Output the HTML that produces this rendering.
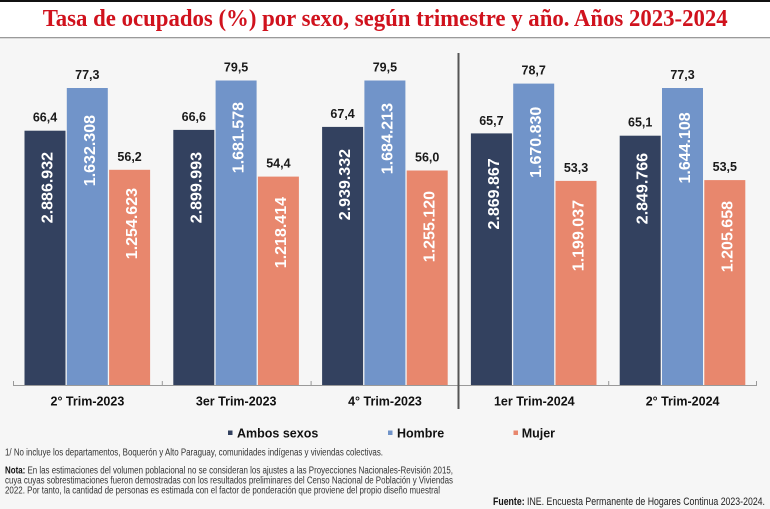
<!DOCTYPE html>
<html>
<head>
<meta charset="utf-8">
<style>
  html, body { margin: 0; padding: 0; background: #f6f6f6; }
  body { width: 770px; height: 509px; overflow: hidden; }
  svg { display: block; }
  .val { font-family: "Liberation Sans", Arial, sans-serif; font-weight: bold; font-size: 12.5px; fill: #1a1a1a; text-anchor: middle; }
  .inb { font-family: "Liberation Sans", Arial, sans-serif; font-weight: bold; font-size: 16px; fill: #ffffff; text-anchor: end; }
  .cat { font-family: "Liberation Sans", Arial, sans-serif; font-weight: bold; font-size: 12.5px; fill: #111; text-anchor: middle; }
  .leg { font-family: "Liberation Sans", Arial, sans-serif; font-weight: bold; font-size: 12.5px; fill: #111; }
  .fn { font-family: "Liberation Sans", Arial, sans-serif; font-size: 10px; fill: #333; }
  .src { font-family: "Liberation Sans", Arial, sans-serif; font-size: 11px; fill: #222; }
</style>
</head>
<body>
<svg width="770" height="509" viewBox="0 0 770 509" xmlns="http://www.w3.org/2000/svg">
  <!-- backgrounds -->
  <rect x="0" y="0" width="770" height="509" fill="#f6f6f6"/>
  <rect x="0" y="0" width="770" height="37" fill="#ffffff"/>
  <rect x="0" y="0" width="770" height="2" fill="#111"/>
  <rect x="0" y="37" width="770" height="1.3" fill="#9a9a9a"/>

  <!-- title -->
  <text x="42.7" y="26" textLength="685" lengthAdjust="spacingAndGlyphs"
        style="font-family:'Liberation Serif','DejaVu Serif',serif;font-weight:bold;font-size:24px;fill:#d0121d;">Tasa de ocupados (%) por sexo, según trimestre y año. Años 2023-2024</text>

  <!-- Group 1: 2° Trim-2023 -->
  <rect x="24.5" y="130.7" width="41" height="254.3" fill="#33415f"/>
  <rect x="66.8" y="88.0" width="41" height="297.0" fill="#7194c9"/>
  <rect x="109.1" y="169.8" width="41" height="215.2" fill="#e8876d"/>
  <text class="val" x="45" y="121.7">66,4</text>
  <text class="val" x="87.3" y="79">77,3</text>
  <text class="val" x="129.6" y="160.8">56,2</text>
  <text class="inb" transform="translate(52.5,152) rotate(-90)">2.886.932</text>
  <text class="inb" transform="translate(94.8,115) rotate(-90)">1.632.308</text>
  <text class="inb" transform="translate(137.1,188) rotate(-90)">1.254.623</text>

  <!-- Group 2: 3er Trim-2023 -->
  <rect x="173.3" y="129.9" width="41" height="255.1" fill="#33415f"/>
  <rect x="215.6" y="80.5" width="41" height="304.5" fill="#7194c9"/>
  <rect x="257.9" y="176.6" width="41" height="208.4" fill="#e8876d"/>
  <text class="val" x="193.8" y="120.9">66,6</text>
  <text class="val" x="236.1" y="71.5">79,5</text>
  <text class="val" x="278.4" y="167.6">54,4</text>
  <text class="inb" transform="translate(201.3,152) rotate(-90)">2.899.993</text>
  <text class="inb" transform="translate(243.6,102) rotate(-90)">1.681.578</text>
  <text class="inb" transform="translate(285.9,197) rotate(-90)">1.218.414</text>

  <!-- Group 3: 4° Trim-2023 -->
  <rect x="322.1" y="126.9" width="41" height="258.1" fill="#33415f"/>
  <rect x="364.4" y="80.5" width="41" height="304.5" fill="#7194c9"/>
  <rect x="406.7" y="170.5" width="41" height="214.5" fill="#e8876d"/>
  <text class="val" x="342.6" y="117.9">67,4</text>
  <text class="val" x="384.9" y="71.5">79,5</text>
  <text class="val" x="427.2" y="161.5">56,0</text>
  <text class="inb" transform="translate(350.1,149) rotate(-90)">2.939.332</text>
  <text class="inb" transform="translate(392.4,103) rotate(-90)">1.684.213</text>
  <text class="inb" transform="translate(434.7,191) rotate(-90)">1.255.120</text>

  <!-- Group 4: 1er Trim-2024 -->
  <rect x="470.9" y="133.4" width="41" height="251.6" fill="#33415f"/>
  <rect x="513.2" y="83.6" width="41" height="301.4" fill="#7194c9"/>
  <rect x="555.5" y="180.9" width="41" height="204.1" fill="#e8876d"/>
  <text class="val" x="491.4" y="124.8">65,7</text>
  <text class="val" x="533.7" y="74.6">78,7</text>
  <text class="val" x="576" y="171.9">53,3</text>
  <text class="inb" transform="translate(498.9,158.3) rotate(-90)">2.869.867</text>
  <text class="inb" transform="translate(541.2,106.7) rotate(-90)">1.670.830</text>
  <text class="inb" transform="translate(583.5,200) rotate(-90)">1.199.037</text>

  <!-- Group 5: 2° Trim-2024 -->
  <rect x="619.7" y="135.7" width="41" height="249.3" fill="#33415f"/>
  <rect x="662.0" y="88.0" width="41" height="297.0" fill="#7194c9"/>
  <rect x="704.3" y="180.1" width="41" height="204.9" fill="#e8876d"/>
  <text class="val" x="640.2" y="126.7">65,1</text>
  <text class="val" x="682.5" y="79">77,3</text>
  <text class="val" x="724.8" y="171.1">53,5</text>
  <text class="inb" transform="translate(647.7,153) rotate(-90)">2.849.766</text>
  <text class="inb" transform="translate(690,112.3) rotate(-90)">1.644.108</text>
  <text class="inb" transform="translate(732.3,201) rotate(-90)">1.205.658</text>

  <!-- x axis -->
  <line x1="13" y1="385.5" x2="757" y2="385.5" stroke="#9a9a9a" stroke-width="1"/>
  <g stroke="#9a9a9a" stroke-width="1">
    <line x1="13.5" y1="381" x2="13.5" y2="385.5"/>
    <line x1="162.3" y1="381" x2="162.3" y2="385.5"/>
    <line x1="311.1" y1="381" x2="311.1" y2="385.5"/>
    <line x1="608.7" y1="381" x2="608.7" y2="385.5"/>
    <line x1="756.5" y1="381" x2="756.5" y2="385.5"/>
  </g>

  <!-- separator -->
  <line x1="458.5" y1="53" x2="458.5" y2="409" stroke="#555" stroke-width="2"/>

  <!-- category labels -->
  <text class="cat" x="87.4" y="405.5">2° Trim-2023</text>
  <text class="cat" x="236.2" y="405.5">3er Trim-2023</text>
  <text class="cat" x="385" y="405.5">4° Trim-2023</text>
  <text class="cat" x="534.3" y="405.5">1er Trim-2024</text>
  <text class="cat" x="682.6" y="405.5">2° Trim-2024</text>

  <!-- legend -->
  <rect x="228" y="430.5" width="4.5" height="4.5" fill="#33415f"/>
  <text class="leg" x="237" y="437.7">Ambos sexos</text>
  <rect x="388" y="430.5" width="4.5" height="4.5" fill="#7194c9"/>
  <text class="leg" x="397" y="437.7">Hombre</text>
  <rect x="513.5" y="430.5" width="4.5" height="4.5" fill="#e8876d"/>
  <text class="leg" x="521.7" y="437.7">Mujer</text>

  <!-- footnotes -->
  <text class="fn" x="5" y="455.5" textLength="378" lengthAdjust="spacingAndGlyphs">1/ No incluye los departamentos, Boquerón y Alto Paraguay, comunidades indígenas y viviendas colectivas.</text>
  <text class="fn" x="5" y="473.5" textLength="448" lengthAdjust="spacingAndGlyphs"><tspan font-weight="bold" fill="#111">Nota:</tspan> En las estimaciones del volumen poblacional no se consideran los ajustes a las Proyecciones Nacionales-Revisión 2015,</text>
  <text class="fn" x="5" y="483.5" textLength="448" lengthAdjust="spacingAndGlyphs">cuya cuyas sobrestimaciones fueron demostradas con los resultados preliminares del Censo Nacional de Población y Viviendas</text>
  <text class="fn" x="5" y="493.5" textLength="435" lengthAdjust="spacingAndGlyphs">2022. Por tanto, la cantidad de personas es estimada con el factor de ponderación que proviene del propio diseño muestral</text>

  <text class="src" x="493" y="505" textLength="272" lengthAdjust="spacingAndGlyphs"><tspan font-weight="bold" fill="#111">Fuente:</tspan> INE. Encuesta Permanente de Hogares Continua 2023-2024.</text>
</svg>
</body>
</html>
